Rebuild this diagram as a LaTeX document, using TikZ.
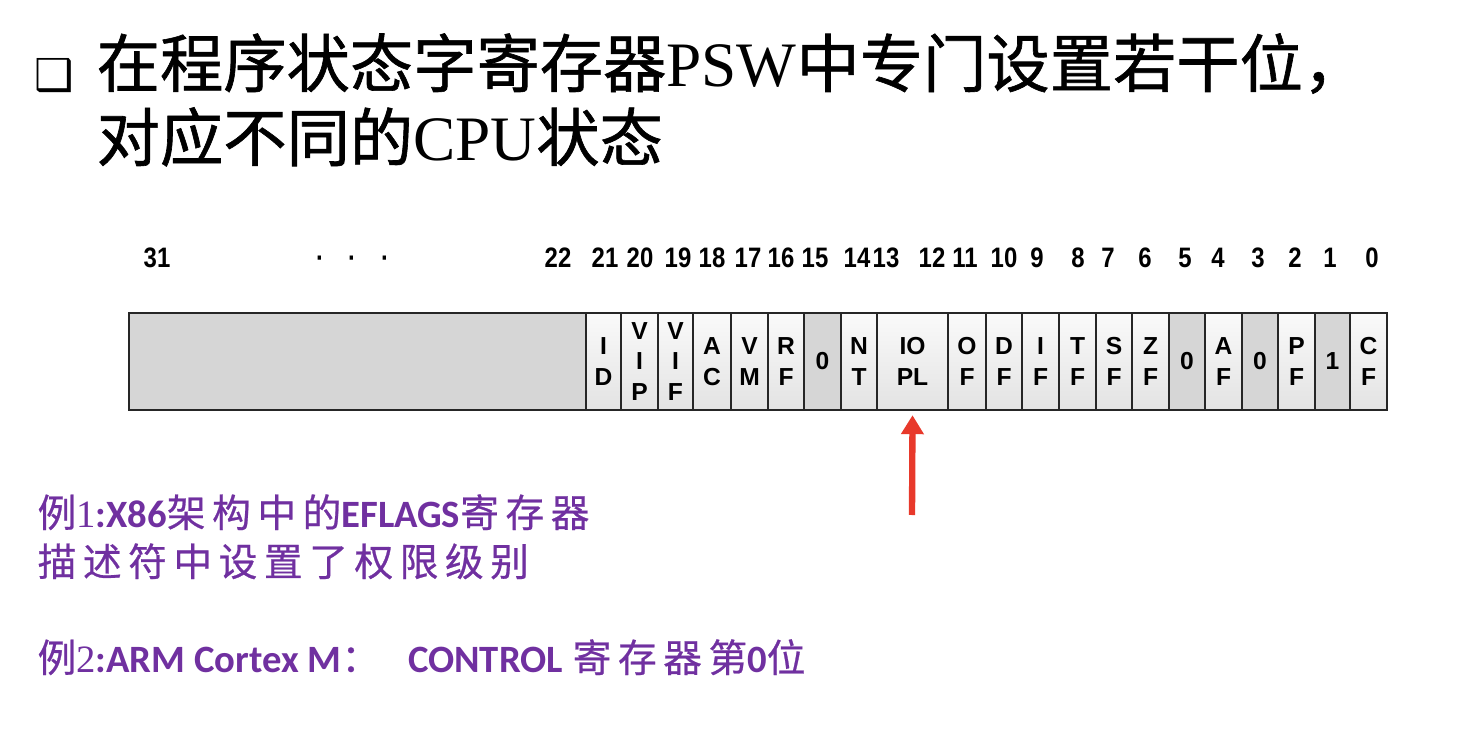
\documentclass[tikz,border=0pt]{standalone}
\usepackage{fontspec}
\setmainfont{Liberation Serif}
\newfontfamily\heifont[FakeBold=1]{Noto Sans CJK SC}
\newfontfamily\kaifont[LetterSpace=17, FakeBold=0.6]{Noto Sans CJK SC}
\newfontfamily\calfont{Carlito}
\newfontfamily\arialfont{Liberation Sans}
\newfontfamily\numfont[FakeStretch=0.85]{Liberation Sans}
\newfontfamily\symfont{DejaVu Sans}
\usepackage{xcolor}
\definecolor{exviolet}{HTML}{7030A0}
\definecolor{arrowred}{HTML}{E8392B}
\usetikzlibrary{arrows.meta}

\begin{document}
\begin{tikzpicture}[x=0.01cm, y=-0.01cm,
    cellbase/.style={draw=black!85, line width=0.55pt, inner sep=0pt, minimum height=97*0.2845pt, align=center,
      font=\arialfont\bfseries\fontsize{7}{8.8}\selectfont},
    bitcell/.style={cellbase, top color=white!98!black, bottom color=white!89!black},
    fixcell/.style={cellbase, fill=black!16},
    bitnum/.style={inner sep=0pt, anchor=base, font=\numfont\bfseries\fontsize{8}{10}\selectfont},
    headline/.style={anchor=base west, inner sep=0pt, font=\fontsize{18}{22}\selectfont},
    example/.style={anchor=base west, inner sep=0pt, text=exviolet, font=\fontsize{11}{13}\selectfont}
  ]
  \useasboundingbox (0,0) rectangle (1480,734);

  \node[inner sep=0pt, font=\symfont\fontsize{12.5}{14}\selectfont] (bullet) at (54,76) {❑};
  \node[headline] (title1) at (96,87) {{\heifont 在程序状态字寄存器}PSW{\heifont 中专门设置若干位，}};
  \node[headline] (title2) at (96,161) {{\heifont 对应不同的}CPU{\heifont 状态}};

  \foreach \b/\x in {31/157, 22/558, 21/605, 20/640, 19/678, 18/712, 17/748, 16/781, 15/815, 14/857, 13/886,
      12/932, 11/965, 10/1004, 9/1037, 8/1078, 7/1108, 6/1145, 5/1185, 4/1218, 3/1258, 2/1295, 1/1330, 0/1372}
    \node[bitnum] (n\b) at (\x,268) {\b};
  \foreach \i/\x in {1/320, 2/352, 3/385}
    \node[bitnum] (dot\i) at (\x,268) {·};

  \foreach \nm/\l/\r/\txt/\kind in {big/129/586//fixcell, ID/586/621/I\\D/bitcell, VIP/621/658/V\\I\\P/bitcell,
      VIF/658/693/V\\I\\F/bitcell, AC/693/731/A\\C/bitcell, VM/731/768/V\\M/bitcell, RF/768/804/R\\F/bitcell,
      15/804/841/0/fixcell, NT/841/877/N\\T/bitcell, IOPL/877/948/IO\\PL/bitcell, OF/948/986/O\\F/bitcell,
      DF/986/1022/D\\F/bitcell, IF/1022/1059/I\\F/bitcell, TF/1059/1096/T\\F/bitcell, SF/1096/1132/S\\F/bitcell,
      ZF/1132/1169/Z\\F/bitcell, 5/1169/1205/0/fixcell, AF/1205/1242/A\\F/bitcell, 3/1242/1278/0/fixcell,
      PF/1278/1315/P\\F/bitcell, 1/1315/1350/1/fixcell, CF/1350/1387/C\\F/bitcell}
    \node[\kind, minimum width={(\r-\l)*0.2845pt}] (c\nm) at ({(\l+\r)/2},361.5) {\txt};

  \coordinate (tail) at (912,515);
  \draw[-{Triangle[width=6.2pt, length=5.4pt]}, arrowred, line width=1.8pt] (tail) -- ([yshift=-1.2pt]cIOPL.south);

  \node[example] (ex1) at (37,527) {{\kaifont 例}1{\calfont\bfseries :X86}{\kaifont 架构中的}{\calfont\bfseries EFLAGS}{\kaifont 寄存器}};
  \node[example] (ex1b) at (37,576) {{\kaifont 描述符中设置了权限级别}};
  \node[example] (ex2) at (37,672) {{\kaifont 例}2{\calfont\bfseries :ARM Cortex M}{\kaifont ：}\hspace{8pt}{\calfont\bfseries CONTROL} {\kaifont 寄存器第}{\calfont\bfseries 0}{\kaifont 位}};
\end{tikzpicture}
\end{document}
